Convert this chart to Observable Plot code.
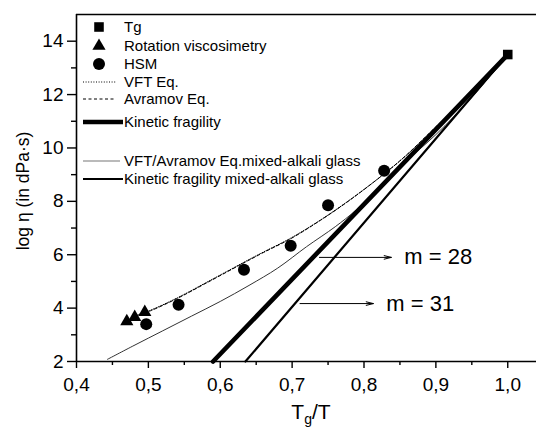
<!DOCTYPE html>
<html><head><meta charset="utf-8">
<script src="https://cdn.jsdelivr.net/npm/d3@7"></script>
<script src="https://cdn.jsdelivr.net/npm/@observablehq/plot@0.6"></script>
<style>
body{margin:0;background:#fff;}
#chart{position:relative;width:536px;height:430px;overflow:hidden;}
#legend{position:absolute;left:0;top:0;pointer-events:none;}
</style></head><body><div id="chart"></div>
<script>
// ---- data ----
const tgX = [1.0];
const tgY = [13.5];
const rotX = [0.470, 0.481, 0.495];
const rotY = [3.50, 3.66, 3.85];
const hsmX = [0.497, 0.542, 0.633, 0.698, 0.750, 0.828];
const hsmY = [3.40, 4.13, 5.44, 6.34, 7.85, 9.15];
const vftX = [0.480, 0.503, 0.540, 0.580, 0.629, 0.660, 0.698, 0.740, 0.780, 0.829, 0.860, 0.903, 0.950, 1.000];
const vftY = [3.70, 3.92, 4.38, 4.95, 5.66, 6.10, 6.62, 7.31, 8.05, 9.05, 9.75, 10.86, 12.05, 13.50];
const avrX = [0.480, 0.503, 0.540, 0.580, 0.629, 0.660, 0.698, 0.740, 0.780, 0.829, 0.860, 0.903, 0.950, 1.000];
const avrY = [3.68, 3.90, 4.36, 4.93, 5.64, 6.08, 6.60, 7.30, 8.04, 9.05, 9.76, 10.87, 12.06, 13.50];
const mixX = [0.443, 0.480, 0.520, 0.560, 0.600, 0.640, 0.680, 0.720, 0.760, 0.790, 0.850, 0.900, 0.950, 1.000];
const mixY = [2.08, 2.60, 3.15, 3.70, 4.25, 4.85, 5.50, 6.30, 7.05, 7.70, 9.30, 10.50, 11.90, 13.50];
const kinX = [0.590, 1.000];
const kinY = [2.0, 13.5];
const kinMixX = [0.635, 1.000];
const kinMixY = [2.0, 13.5];
const arrowX1 = [0.738, 0.711];
const arrowX2 = [0.838, 0.813];
const arrowY = [5.90, 4.17];
const mLabels = ["m = 28", "m = 31"];
const mLabelX = [0.856, 0.831];
const mLabelY = [5.90, 4.17];
const xMajor = [0.4, 0.5, 0.6, 0.7, 0.8, 0.9, 1.0];
const xMinor = [0.45, 0.55, 0.65, 0.75, 0.85, 0.95];
const yMajor = [2, 4, 6, 8, 10, 12, 14];
const yMinor = [3, 5, 7, 9, 11, 13];
const legendLabels = ["Tg", "Rotation viscosimetry", "HSM", "VFT Eq.", "Avramov Eq.", "Kinetic fragility",
  "VFT/Avramov Eq.mixed-alkali glass", "Kinetic fragility mixed-alkali glass"];

const pts = (xs, ys) => xs.map((x, i) => ({x, y: ys[i]}));
const fmt = d => d3.format(".1f")(d).replace(".", ",");
const FONT = "'Liberation Sans', Arial, Helvetica, sans-serif";

const plot = Plot.plot({
  width: 536, height: 430,
  marginLeft: 76, marginRight: 0, marginTop: 14, marginBottom: 69,
  x: {domain: [0.4, 1.04]},
  y: {domain: [2, 15]},
  style: {fontFamily: FONT, fontSize: "19px", color: "#000", background: "#fff", overflow: "visible"},
  marks: [
    Plot.axisX({ticks: xMajor, tickSize: 7, tickPadding: 9, tickFormat: fmt, label: null, strokeWidth: 1.4}),
    Plot.axisX({ticks: xMinor, tickSize: 4, tickFormat: () => "", label: null, strokeWidth: 1.4}),
    Plot.axisY({ticks: yMajor, tickSize: 9, tickPadding: 4, tickFormat: d => String(d), label: null, strokeWidth: 1.4}),
    Plot.axisY({ticks: yMinor, tickSize: 5, tickFormat: () => "", label: null, strokeWidth: 1.4}),
    Plot.ruleY([2], {stroke: "#000", strokeWidth: 1.6}),
    Plot.ruleY([15], {stroke: "#000", strokeWidth: 1.6}),
    Plot.ruleX([0.4], {stroke: "#000", strokeWidth: 1.6}),
    Plot.line(pts(mixX, mixY), {x: "x", y: "y", stroke: "#333", strokeWidth: 1, curve: "catmull-rom"}),
    Plot.line(pts(kinMixX, kinMixY), {x: "x", y: "y", stroke: "#000", strokeWidth: 2.2}),
    Plot.line(pts(kinX, kinY), {x: "x", y: "y", stroke: "#000", strokeWidth: 4.6}),
    Plot.line(pts(vftX, vftY), {x: "x", y: "y", stroke: "#000", strokeWidth: 1, strokeDasharray: "1,1.6", curve: "catmull-rom"}),
    Plot.line(pts(avrX, avrY), {x: "x", y: "y", stroke: "#000", strokeWidth: 1, strokeDasharray: "3,2.5", curve: "catmull-rom"}),
    Plot.dot(pts(rotX, rotY), {x: "x", y: "y", symbol: "triangle", r: 4.9, fill: "#000", stroke: "none"}),
    Plot.dot(pts(hsmX, hsmY), {x: "x", y: "y", symbol: "circle", r: 6, fill: "#000", stroke: "none"}),
    Plot.dot(pts(tgX, tgY), {x: "x", y: "y", symbol: "square", r: 5.4, fill: "#000", stroke: "none"}),
    Plot.arrow(arrowX1.map((x1, i) => ({x1, x2: arrowX2[i], y: arrowY[i]})),
      {x1: "x1", x2: "x2", y1: "y", y2: "y", stroke: "#000", strokeWidth: 1, headLength: 11, headAngle: 28}),
    Plot.text(mLabels.map((t, i) => ({t, x: mLabelX[i], y: mLabelY[i]})),
      {x: "x", y: "y", text: "t", textAnchor: "start", fontSize: 22, fill: "#000"})
  ]
});

const chart = document.getElementById("chart");
chart.appendChild(plot);

// axis titles
const svg = d3.select(plot);
svg.append("text")
  .attr("transform", "translate(29,191) rotate(-90)")
  .attr("text-anchor", "middle")
  .attr("font-family", FONT).attr("font-size", 17.5).attr("fill", "#000")
  .text("log η (in dPa·s)");
const xl = svg.append("text")
  .attr("x", 311).attr("y", 419)
  .attr("text-anchor", "middle")
  .attr("font-family", FONT).attr("font-size", 21).attr("fill", "#000");
xl.append("tspan").text("T");
xl.append("tspan").attr("font-size", 14).attr("dy", 5).text("g");
xl.append("tspan").attr("dy", -5).text("/T");

// legend overlay
const lg = d3.select(chart).append("svg").attr("id", "legend")
  .attr("width", 536).attr("height", 430);
const rowY = [27, 46, 64, 82, 99, 122, 161, 179];
const textX = 124;
const sym = (type, r) => d3.symbol().type(type).size(Math.PI * r * r)();
lg.append("path").attr("d", sym(d3.symbolSquare, 5.4)).attr("transform", `translate(99,${rowY[0]})`).attr("fill", "#000");
lg.append("path").attr("d", sym(d3.symbolTriangle, 4.9)).attr("transform", `translate(99,${rowY[1]})`).attr("fill", "#000");
lg.append("path").attr("d", sym(d3.symbolCircle, 6)).attr("transform", `translate(99,${rowY[2]})`).attr("fill", "#000");
const seg = (i, x2, w, dash, col) => lg.append("line").attr("x1", 83).attr("x2", x2)
  .attr("y1", rowY[i]).attr("y2", rowY[i]).attr("stroke", col).attr("stroke-width", w)
  .attr("stroke-dasharray", dash);
seg(3, 116, 1, "1,1.6", "#000");
seg(4, 116, 1, "3,2.5", "#000");
seg(5, 123, 4.6, null, "#000");
seg(6, 120, 1.2, null, "#777");
seg(7, 123, 2.2, null, "#000");
legendLabels.forEach((t, i) => {
  lg.append("text").attr("x", textX).attr("y", rowY[i]).attr("dy", "0.35em")
    .attr("font-family", FONT).attr("font-size", 15).attr("fill", "#000").text(t);
});
</script></body></html>
